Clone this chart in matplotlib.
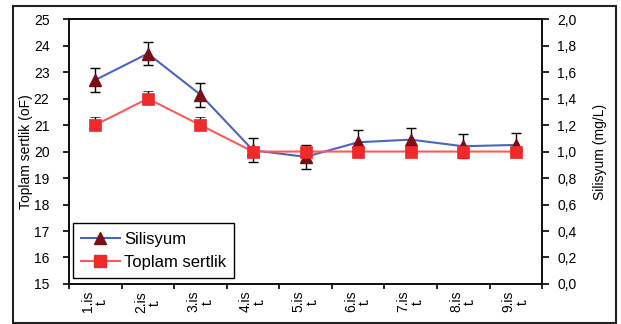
import numpy as np
import matplotlib
matplotlib.use("Agg")
import matplotlib.pyplot as plt
from matplotlib.patches import Rectangle
from matplotlib.lines import Line2D

# data
labels = ["1.is\nt.", "2.is\nt.", "3.is\nt.", "4.is\nt.", "5.is\nt.",
          "6.is\nt.", "7.is\nt.", "8.is\nt.", "9.is\nt."]
silisyum = [1.54, 1.74, 1.43, 1.01, 0.96, 1.07, 1.09, 1.04, 1.05]
silisyum_err = [0.09, 0.09, 0.09, 0.09, 0.09, 0.09, 0.09, 0.09, 0.09]
sertlik = [21.0, 22.0, 21.0, 20.0, 20.0, 20.0, 20.0, 20.0, 20.0]
sertlik_err = [0.29, 0.29, 0.29, 0.0, 0.0, 0.0, 0.0, 0.0, 0.0]

plt.rcParams['font.family'] = ['Liberation Sans', 'DejaVu Sans']

blue = '#4a66c4'
dark_red = '#7a1015'
red_line = '#ff5a5a'
red = '#ee2a2a'

fig = plt.figure(figsize=(6.21, 3.24), dpi=100)
ax = fig.add_axes([0.111, 0.1235, 0.762, 0.8175])
ax2 = ax.twinx()

x = np.arange(1, len(labels) + 1)

# silisyum on the right axis, drawn under the squares
ax2.errorbar(x, silisyum, yerr=silisyum_err, color=blue, lw=1.5,
             marker='^', markersize=8, markerfacecolor=dark_red,
             markeredgecolor=dark_red, ecolor='black', elinewidth=1,
             capsize=3.5, capthick=1)
# only the plus error bar is drawn for toplam sertlik
ax.errorbar(x, sertlik, yerr=[np.zeros(len(sertlik)), sertlik_err], color=red_line, lw=1.5,
            marker='s', markersize=8.3, markerfacecolor=red,
            markeredgecolor=red, markeredgewidth=0.5, ecolor='black', elinewidth=1,
            capsize=3.5, capthick=1)
ax.set_zorder(ax2.get_zorder() + 1)
ax.patch.set_visible(False)

ax.set_xlim(0.5, len(labels) + 0.5)
ax.set_ylim(15, 25)
ax.set_yticks(np.arange(15, 26, 1))
ax2.set_ylim(0, 2)
ax2.set_yticks(np.arange(0, 2.01, 0.2))
ax2.set_yticklabels([f"{v:.1f}".replace('.', ',') for v in np.arange(0, 2.01, 0.2)])

# ticks between categories, labels in the middle
ax.set_xticks(np.arange(0.5, len(labels) + 1, 1))
ax.set_xticklabels([])
ax.set_xticks(x, minor=True)
ax.set_xticklabels(labels, minor=True, rotation=90, fontsize=10,
                   ha='center', va='top', multialignment='center', linespacing=1.0)
ax.tick_params(axis='x', which='minor', length=0, pad=5)
ax.tick_params(axis='x', which='major', length=3.5, width=1.2, direction='out')
ax.tick_params(axis='y', length=4.5, width=1.2, labelsize=10, pad=9.5)
ax2.tick_params(axis='y', length=5, width=1.2, labelsize=10, pad=6)

for a in (ax, ax2):
    for s in a.spines.values():
        s.set_linewidth(1.3)
        s.set_color('#111111')

ax.set_ylabel('Toplam sertlik (oF)', fontsize=10, labelpad=0.5)
ax2.set_ylabel('Silisyum (mg/L)', fontsize=10, labelpad=11.5)

h1 = Line2D([], [], color=blue, lw=1.5, marker='^', markersize=8,
            markerfacecolor=dark_red, markeredgecolor=dark_red)
h2 = Line2D([], [], color=red_line, lw=1.5, marker='s', markersize=8,
            markerfacecolor=red, markeredgecolor=red)
leg = ax.legend([h1, h2], ['Silisyum', 'Toplam sertlik'], loc='lower left',
                bbox_to_anchor=(0.0085, 0.021), borderaxespad=0, fontsize=12,
                fancybox=False, edgecolor='black', framealpha=1,
                handlelength=2.3, borderpad=0.5, labelspacing=0.5, handletextpad=0.25)
leg.get_frame().set_linewidth(1.0)

# outer frame
fig.patches.append(Rectangle((0.021, 0.004), 0.971, 0.977, transform=fig.transFigure,
                             fill=False, edgecolor='#222222', linewidth=1.5))

fig.savefig('out.png', dpi=100)
